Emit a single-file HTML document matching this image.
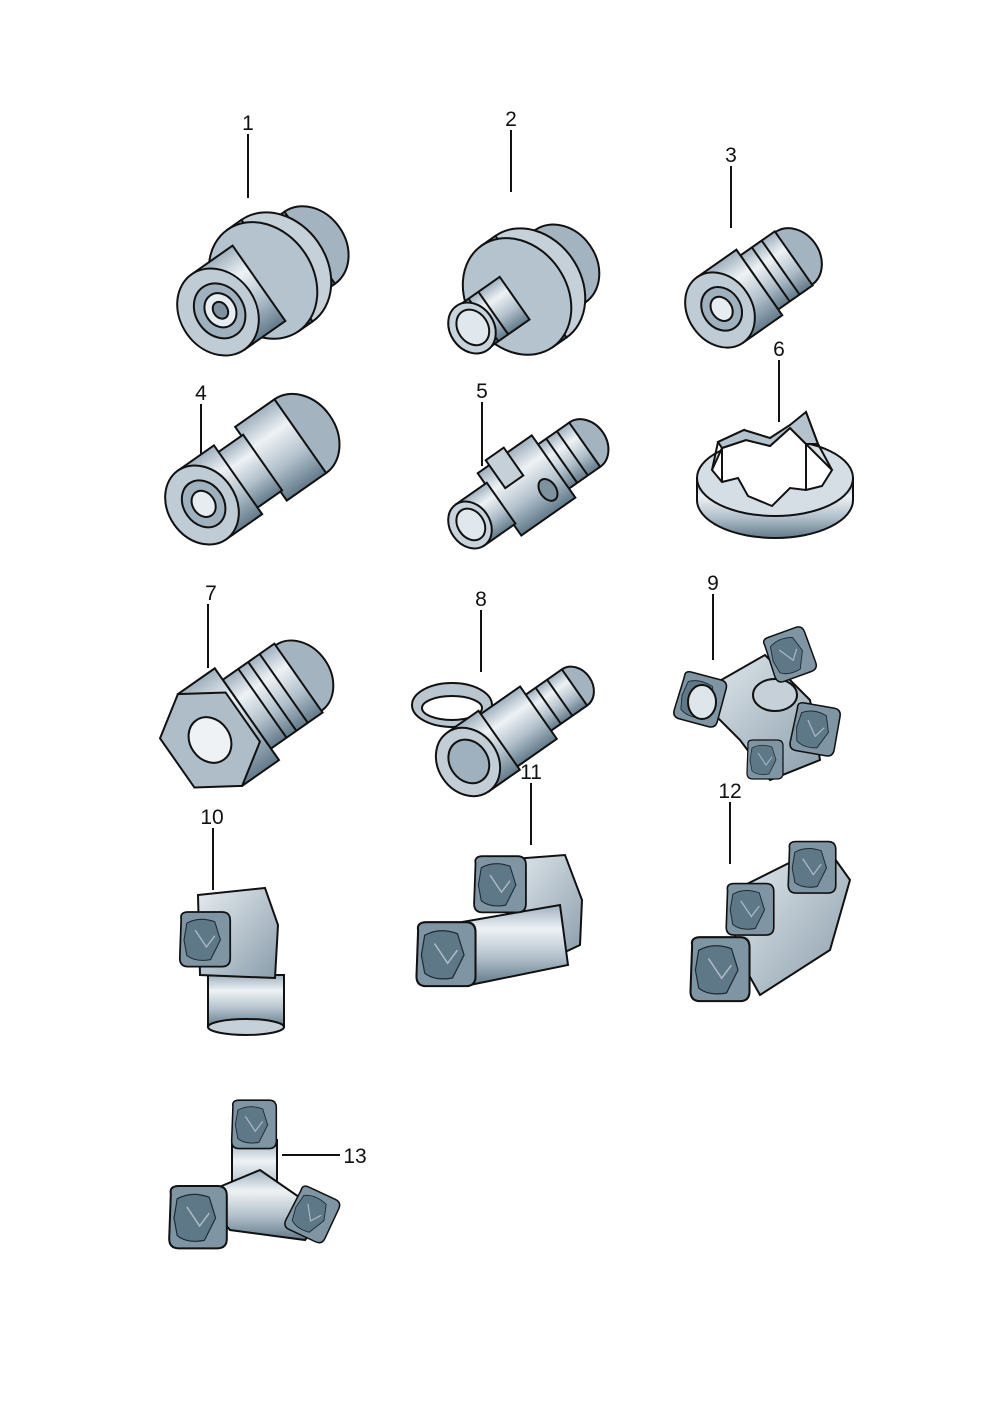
<!DOCTYPE html>
<html><head><meta charset="utf-8"><style>
html,body{margin:0;padding:0;background:#fff}
svg{display:block}
text{font-family:"Liberation Sans",sans-serif;font-size:21px;fill:#111}
</style></head><body>
<svg width="992" height="1403" viewBox="0 0 992 1403" xmlns="http://www.w3.org/2000/svg">
<defs>
<linearGradient id="g" x1="0" y1="0" x2="0" y2="1">
<stop offset="0" stop-color="#9fb0be"/><stop offset="0.3" stop-color="#eef2f5"/><stop offset="0.65" stop-color="#b3c1cc"/><stop offset="1" stop-color="#627a8b"/>
</linearGradient>
<linearGradient id="f" x1="0" y1="0" x2="1" y2="1">
<stop offset="0" stop-color="#e6ecf0"/><stop offset="1" stop-color="#8a9dab"/>
</linearGradient>
<g id="end">
<path d="M-34,-30 Q-36,-40 -24,-40 L24,-40 Q36,-40 36,-28 L36,26 Q36,38 24,38 L-24,38 Q-36,38 -36,26 Z" fill="#7f95a4" stroke="#111" stroke-width="2.5"/>
<path d="M-26,-24 Q-8,-34 14,-26 L22,0 L8,28 Q-14,32 -26,22 L-30,0 Z" fill="#5f7888" stroke="#1c2a33" stroke-width="1.5"/>
<path d="M-14,-14 L2,10 L14,-6" fill="none" stroke="#a8b8c4" stroke-width="2"/>
</g>
</defs>
<g stroke="#111" stroke-width="2" fill="none">
<line x1="248" y1="134" x2="248" y2="198"/>
<line x1="511" y1="130" x2="511" y2="192"/>
<line x1="731" y1="166" x2="731" y2="228"/>
<line x1="201" y1="404" x2="201" y2="470"/>
<line x1="482" y1="402" x2="482" y2="466"/>
<line x1="779" y1="360" x2="779" y2="422"/>
<line x1="208" y1="604" x2="208" y2="668"/>
<line x1="481" y1="610" x2="481" y2="672"/>
<line x1="713" y1="594" x2="713" y2="660"/>
<line x1="213" y1="828" x2="213" y2="890"/>
<line x1="531" y1="783" x2="531" y2="845"/>
<line x1="730" y1="802" x2="730" y2="864"/>
<line x1="282" y1="1155" x2="340" y2="1155"/>
</g>
<text x="248" y="130" text-anchor="middle">1</text>
<text x="511" y="126" text-anchor="middle">2</text>
<text x="731" y="162" text-anchor="middle">3</text>
<text x="201" y="400" text-anchor="middle">4</text>
<text x="482" y="398" text-anchor="middle">5</text>
<text x="779" y="356" text-anchor="middle">6</text>
<text x="211" y="600" text-anchor="middle">7</text>
<text x="481" y="606" text-anchor="middle">8</text>
<text x="713" y="590" text-anchor="middle">9</text>
<text x="212" y="824" text-anchor="middle">10</text>
<text x="531" y="779" text-anchor="middle">11</text>
<text x="730" y="798" text-anchor="middle">12</text>
<text x="355" y="1163" text-anchor="middle">13</text>

<g stroke="#111" stroke-width="2">
<!-- 1 -->
<g transform="translate(218,312) rotate(-35)">
<ellipse cx="112" cy="0" rx="36" ry="44" fill="#a3b3c0"/><rect x="72" y="-44" width="40" height="88" fill="url(#g)"/>
<ellipse cx="72" cy="0" rx="50" ry="62" fill="#c5d0d9"/><rect x="55" y="-62" width="17" height="124" fill="url(#g)"/>
<ellipse cx="55" cy="0" rx="50" ry="62" fill="#b5c3ce"/>
<rect x="0" y="-46" width="50" height="92" fill="url(#g)"/>
<ellipse cx="0" cy="0" rx="38" ry="46" fill="#bfcbd5"/>
<ellipse cx="2" cy="0" rx="24" ry="29" fill="#9fb0be"/><ellipse cx="3" cy="0" rx="15" ry="18" fill="#e6ecf0"/><ellipse cx="3" cy="0" rx="7" ry="9" fill="#7d919f"/>
</g>
<!-- 2 -->
<g transform="translate(472,328) rotate(-35)">
<ellipse cx="108" cy="0" rx="36" ry="44" fill="#a3b3c0"/><rect x="72" y="-44" width="36" height="88" fill="url(#g)"/>
<ellipse cx="72" cy="0" rx="50" ry="62" fill="#c5d0d9"/><rect x="55" y="-62" width="17" height="124" fill="url(#g)"/>
<ellipse cx="55" cy="0" rx="50" ry="62" fill="#b5c3ce"/>
<rect x="0" y="-26" width="52" height="52" fill="url(#g)"/>
<line x1="14" y1="-26" x2="14" y2="26"/><line x1="26" y1="-26" x2="26" y2="26"/>
<ellipse cx="0" cy="0" rx="22" ry="27" fill="#c9d3db"/><ellipse cx="1" cy="0" rx="15" ry="19" fill="#e1e8ed"/>
</g>
<!-- 3 -->
<g transform="translate(720,310) rotate(-35)">
<ellipse cx="90" cy="0" rx="26" ry="32" fill="#a3b3c0"/><rect x="48" y="-33" width="42" height="66" fill="url(#g)"/>
<line x1="62" y1="-33" x2="62" y2="33"/><line x1="74" y1="-33" x2="74" y2="33"/>
<rect x="0" y="-40" width="48" height="80" fill="url(#g)"/>
<ellipse cx="0" cy="0" rx="32" ry="40" fill="#bfcbd5"/><ellipse cx="2" cy="0" rx="19" ry="23" fill="#9fb0be"/><ellipse cx="2" cy="0" rx="10" ry="13" fill="#e6ecf0"/>
</g>
<!-- 4 -->
<g transform="translate(202,505) rotate(-35)">
<ellipse cx="120" cy="0" rx="36" ry="45" fill="#a3b3c0"/><rect x="72" y="-45" width="48" height="90" fill="url(#g)"/>
<rect x="42" y="-34" width="32" height="68" fill="url(#g)"/>
<rect x="0" y="-42" width="44" height="84" fill="url(#g)"/>
<ellipse cx="0" cy="0" rx="34" ry="42" fill="#bfcbd5"/><ellipse cx="2" cy="0" rx="20" ry="25" fill="#9fb0be"/><ellipse cx="2" cy="0" rx="11" ry="14" fill="#e6ecf0"/>
</g>
<!-- 5 -->
<g transform="translate(470,525) rotate(-35)">
<ellipse cx="140" cy="0" rx="22" ry="27" fill="#a3b3c0"/><rect x="100" y="-27" width="40" height="54" fill="url(#g)"/>
<line x1="112" y1="-27" x2="112" y2="27"/><line x1="125" y1="-27" x2="125" y2="27"/>
<rect x="36" y="-38" width="66" height="76" fill="url(#g)"/>
<rect x="50" y="-44" width="22" height="34" fill="#c5d0d9"/><ellipse cx="84" cy="16" rx="8" ry="12" fill="#7d919f"/>
<rect x="0" y="-25" width="38" height="50" fill="url(#g)"/>
<ellipse cx="0" cy="0" rx="20" ry="25" fill="#c9d3db"/><ellipse cx="1" cy="0" rx="13" ry="17" fill="#e1e8ed"/>
</g>
<!-- 6 -->
<g>
<path d="M697,478 L697,500 A78,38 0 0 0 853,500 L853,478 Z" fill="url(#g)"/>
<ellipse cx="775" cy="478" rx="78" ry="38" fill="#d6dee5"/>
<path d="M712,470 L722,448 L746,440 L770,446 L790,428 L806,444 L832,470 L822,486 L806,490 L790,488 L772,506 L748,496 L738,478 L722,482 Z" fill="#fff"/>
<path d="M712,470 L718,442 L744,430 L746,440 M790,428 L806,412 L818,444 L832,470 M722,448 L722,482 M806,444 L806,490" fill="none"/>
<path d="M718,442 L744,430 L770,438 L790,425 L806,412 L818,444 L806,444 L790,428 L770,446 L746,440 L722,448 Z" fill="#b5c3ce"/>
</g>
<!-- 7 -->
<g transform="translate(210,740) rotate(-35)">
<ellipse cx="108" cy="0" rx="32" ry="40" fill="#a3b3c0"/><rect x="45" y="-42" width="63" height="84" fill="url(#g)"/>
<line x1="64" y1="-42" x2="64" y2="42"/><line x1="76" y1="-42" x2="76" y2="42"/><line x1="90" y1="-42" x2="90" y2="42"/>
<path d="M0,-56 L45,-56 L45,56 L0,56 Z" fill="url(#g)"/>
<path d="M0,-56 L-40,-30 L-40,30 L0,56 L40,30 L40,-30 Z" fill="#aebdc8"/>
<ellipse cx="0" cy="0" rx="20" ry="24" fill="#eef2f5"/>
</g>
<!-- 8 -->
<g>
<ellipse cx="452" cy="705" rx="40" ry="22" fill="#b9c6d0"/><ellipse cx="452" cy="708" rx="30" ry="12" fill="#fff"/>
<g transform="translate(468,762) rotate(-35)">
<ellipse cx="130" cy="0" rx="18" ry="22" fill="#a3b3c0"/><rect x="84" y="-22" width="46" height="44" fill="url(#g)"/>
<line x1="98" y1="-22" x2="98" y2="22"/><line x1="112" y1="-22" x2="112" y2="22"/>
<rect x="36" y="-32" width="50" height="64" fill="url(#g)"/>
<rect x="0" y="-36" width="38" height="72" fill="url(#g)"/>
<ellipse cx="0" cy="0" rx="30" ry="36" fill="#c2cdd6"/><ellipse cx="1" cy="0" rx="19" ry="23" fill="#9fb0be"/>
</g>
</g>
<!-- 9 -->
<g>
<path d="M695,695 L765,655 L810,700 L820,760 L770,780 L740,740 Z" fill="url(#f)"/>
<ellipse cx="775" cy="695" rx="22" ry="16" fill="#c5d0d9"/>
<use href="#end" transform="translate(790,655) scale(0.6) rotate(-20)"/>
<use href="#end" transform="translate(700,700) scale(0.62) rotate(15)"/>
<ellipse cx="702" cy="702" rx="14" ry="17" fill="#dfe6eb"/>
<use href="#end" transform="translate(815,730) scale(0.62) rotate(10)"/>
<use href="#end" transform="translate(765,760) scale(0.5)"/>
</g>
<!-- 10 -->
<g>
<rect x="208" y="975" width="76" height="52" fill="url(#g)"/>
<ellipse cx="246" cy="1027" rx="38" ry="8" fill="#c5d0d9"/>
<path d="M198,895 L265,888 L278,925 L275,978 L200,975 Z" fill="url(#f)"/>
<use href="#end" transform="translate(205,940) scale(0.7)"/>
</g>
<!-- 11 -->
<g>
<path d="M500,860 L565,855 L582,900 L580,945 L548,960 L500,905 Z" fill="url(#f)"/>
<path d="M445,925 L560,905 L568,965 L470,985 Z" fill="url(#g)"/>
<use href="#end" transform="translate(500,885) scale(0.72)"/>
<use href="#end" transform="translate(446,955) scale(0.82)"/>
</g>
<!-- 12 -->
<g>
<path d="M735,890 L825,845 L850,880 L830,950 L760,995 L735,950 Z" fill="url(#f)"/>
<use href="#end" transform="translate(812,868) scale(0.66)"/>
<use href="#end" transform="translate(750,910) scale(0.66)"/>
<use href="#end" transform="translate(720,970) scale(0.82)"/>
</g>
<!-- 13 -->
<g>
<rect x="232" y="1140" width="45" height="70" fill="url(#g)"/>
<path d="M200,1195 L260,1170 L325,1215 L305,1240 L230,1230 Z" fill="url(#g)"/>
<use href="#end" transform="translate(254,1125) scale(0.62)"/>
<use href="#end" transform="translate(198,1218) scale(0.8)"/>
<use href="#end" transform="translate(312,1215) scale(0.6) rotate(25)"/>
</g>
</g>
</svg>
</body></html>
